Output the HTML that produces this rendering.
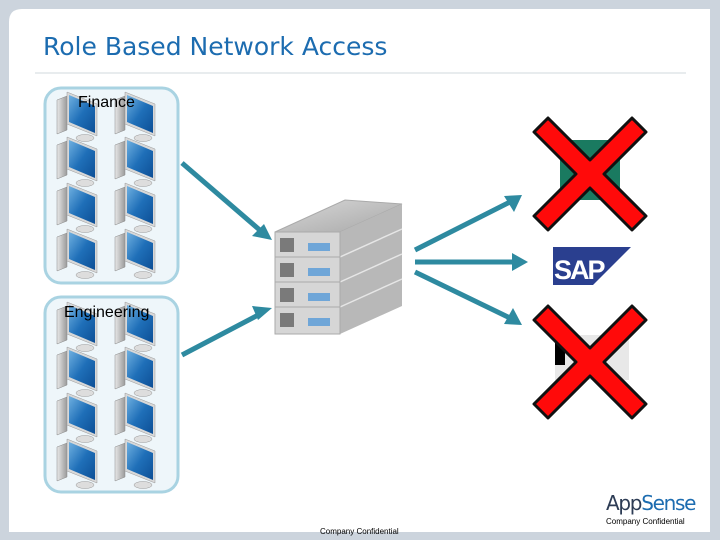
<!DOCTYPE html>
<html><head><meta charset="utf-8"><style>
html,body{margin:0;padding:0;width:720px;height:540px;overflow:hidden;background:#ccd4dd;}
svg{display:block;}
</style></head><body>
<svg width="720" height="540" viewBox="0 0 720 540" xmlns="http://www.w3.org/2000/svg">
<defs>
<linearGradient id="scr" x1="0" y1="0" x2="1" y2="1"><stop offset="0" stop-color="#6fb0e0"/><stop offset="0.5" stop-color="#1f6fb8"/><stop offset="1" stop-color="#0d4f96"/></linearGradient>
<linearGradient id="tw" x1="0" y1="0" x2="1" y2="0"><stop offset="0" stop-color="#e8e8e8"/><stop offset="1" stop-color="#9a9a9a"/></linearGradient>
<linearGradient id="srvtop" x1="0" y1="0" x2="1" y2="1"><stop offset="0" stop-color="#d8d8d8"/><stop offset="1" stop-color="#a8a8a8"/></linearGradient>
<symbol id="pc" viewBox="0 0 46 52">
<polygon points="2,10 12,6 12,40 2,44" fill="url(#tw)" stroke="#888" stroke-width="0.5"/>
<polygon points="12,2 42,14 42,46 12,34" fill="#d8d8d8" stroke="#999" stroke-width="0.5"/>
<polygon points="14,5 40,16 40,43 14,32" fill="url(#scr)"/>
<ellipse cx="30" cy="48" rx="9" ry="3.5" fill="#ddd" stroke="#999" stroke-width="0.5"/>
</symbol>
</defs>
<path d="M22,9 H710 V532 H9 V22 Q9,9 22,9 Z" fill="#ffffff"/>
<text x="43" y="55" font-family="'DejaVu Sans','Liberation Sans',sans-serif" font-size="25" fill="#1c6cb0">Role Based Network Access</text>
<line x1="35" y1="73" x2="686" y2="73" stroke="#d0d8de" stroke-width="1"/>

<rect x="45" y="88" width="133" height="195" rx="16" fill="#eef6fa" stroke="#a9d3e2" stroke-width="3"/>
<rect x="45" y="297" width="133" height="195" rx="16" fill="#eef6fa" stroke="#a9d3e2" stroke-width="3"/>
<g>
<use href="#pc" x="55" y="90" width="46" height="52"/><use href="#pc" x="113" y="90" width="46" height="52"/>
<use href="#pc" x="55" y="135" width="46" height="52"/><use href="#pc" x="113" y="135" width="46" height="52"/>
<use href="#pc" x="55" y="181" width="46" height="52"/><use href="#pc" x="113" y="181" width="46" height="52"/>
<use href="#pc" x="55" y="227" width="46" height="52"/><use href="#pc" x="113" y="227" width="46" height="52"/>
<use href="#pc" x="55" y="300" width="46" height="52"/><use href="#pc" x="113" y="300" width="46" height="52"/>
<use href="#pc" x="55" y="345" width="46" height="52"/><use href="#pc" x="113" y="345" width="46" height="52"/>
<use href="#pc" x="55" y="391" width="46" height="52"/><use href="#pc" x="113" y="391" width="46" height="52"/>
<use href="#pc" x="55" y="437" width="46" height="52"/><use href="#pc" x="113" y="437" width="46" height="52"/>
</g>
<text x="78" y="107" font-family="'Liberation Sans',sans-serif" font-size="16" fill="#000">Finance</text>
<text x="64" y="317" font-family="'Liberation Sans',sans-serif" font-size="16" fill="#000">Engineering</text>

<g stroke="#2e8aa0" stroke-width="5" fill="#2e8aa0">
<line x1="182" y1="163" x2="262" y2="232"/>
<line x1="182" y1="355" x2="262" y2="313"/>
<line x1="415" y1="250" x2="510" y2="202"/>
<line x1="415" y1="262" x2="515" y2="262"/>
<line x1="415" y1="272" x2="510" y2="318"/>
</g>
<g fill="#2e8aa0">
<polygon points="272,240 252,236 264,224"/>
<polygon points="272,308 258,320 252,306"/>
<polygon points="522,195 514,212 504,196"/>
<polygon points="528,262 512,253 512,271"/>
<polygon points="522,325 504,324 513,308"/>
</g>

<g>
<polygon points="275,232 340,232 402,204 345,200" fill="url(#srvtop)" stroke="#aaa"/>
<polygon points="340,232 402,204 402,306 340,334" fill="#b8b8b8"/>
<g stroke="#e6e6e6" stroke-width="1.5"><line x1="340" y1="257" x2="402" y2="229"/><line x1="340" y1="282" x2="402" y2="254"/><line x1="340" y1="307" x2="402" y2="279"/></g>
<rect x="275" y="232" width="65" height="102" fill="#d6d6d6" stroke="#aaa"/>
<g fill="#7a7a7a"><rect x="280" y="238" width="14" height="14"/><rect x="280" y="263" width="14" height="14"/><rect x="280" y="288" width="14" height="14"/><rect x="280" y="313" width="14" height="14"/></g>
<g fill="#6fa6d8"><rect x="308" y="243" width="22" height="8"/><rect x="308" y="268" width="22" height="8"/><rect x="308" y="293" width="22" height="8"/><rect x="308" y="318" width="22" height="8"/></g>
<g stroke="#aaa"><line x1="275" y1="257" x2="340" y2="257"/><line x1="275" y1="282" x2="340" y2="282"/><line x1="275" y1="307" x2="340" y2="307"/></g>
</g>

<rect x="560" y="140" width="60" height="60" fill="#1a7a60"/>
<path d="M548,118 L590,160 L632,118 L646,132 L604,174 L646,216 L632,230 L590,188 L548,230 L534,216 L576,174 L534,132 Z" fill="#ff0a0a" stroke="#111" stroke-width="3" stroke-linejoin="round"/>
<polygon points="553,247 631,247 593,285 553,285" fill="#2a3f8f"/>
<text x="554" y="279" font-family="'Liberation Sans',sans-serif" font-weight="bold" font-size="27" fill="#fff" letter-spacing="-2">SAP</text>
<rect x="555" y="335" width="74" height="45" fill="#e8e8e8"/>
<rect x="555" y="340" width="10" height="25" fill="#000"/>
<path d="M548,306 L590,348 L632,306 L646,320 L604,362 L646,404 L632,418 L590,376 L548,418 L534,404 L576,362 L534,320 Z" fill="#ff0a0a" stroke="#111" stroke-width="3" stroke-linejoin="round"/>

<text x="606" y="510" font-family="'DejaVu Sans','Liberation Sans',sans-serif" font-size="20" fill="#2d3c55" letter-spacing="-1.3">App<tspan fill="#1c6cb0">Sense</tspan></text>
<text x="606" y="524" font-family="'Liberation Sans',sans-serif" font-size="8" fill="#000">Company Confidential</text>
<text x="320" y="534" font-family="'Liberation Sans',sans-serif" font-size="8" fill="#000">Company Confidential</text>
</svg>
</body></html>
